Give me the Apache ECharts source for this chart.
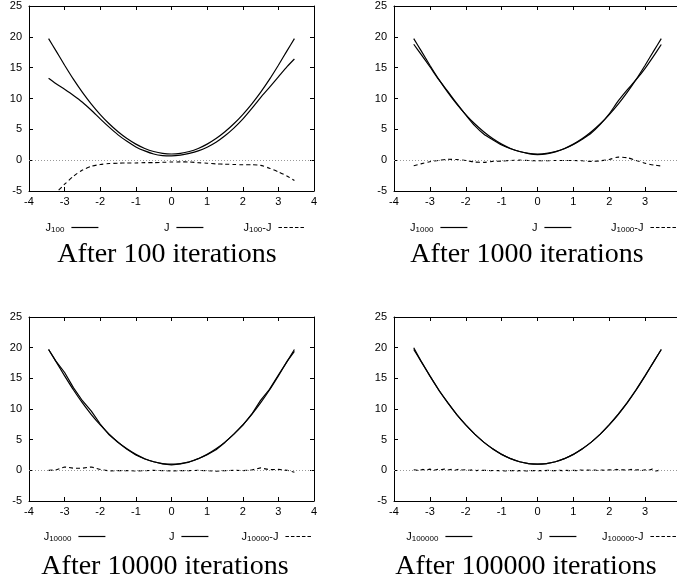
<!DOCTYPE html>
<html>
<head>
<meta charset="utf-8">
<script src="https://cdn.jsdelivr.net/npm/echarts@6/dist/echarts.min.js"></script>
<style>
  html, body { margin: 0; padding: 0; background: #fff; }
  #main { width: 677px; height: 582px; }
</style>
</head>
<body>
<div id="main"></div>
<script>
// x positions where the curves were read
let xs = [-3.45, -3.25, -3, -2.75, -2.5, -2.25, -2, -1.75, -1.5, -1.25, -1, -0.75, -0.5, -0.25, 0,
    0.25, 0.5, 0.75, 1, 1.25, 1.5, 1.75, 2, 2.25, 2.5, 2.75, 3, 3.25, 3.45];
// finer grid for the noisy difference after 100000 iterations
let xsFine = [-3.45, -3.4, -3.3, -3.2, -3.1, -3.0, -2.9, -2.8, -2.7, -2.6, -2.5, -2.4, -2.3, -2.2, -2.1,
    -2.0, -1.9, -1.8, -1.7, -1.6, -1.5, -1.4, -1.3, -1.2, -1.1, -1.0, -0.9, -0.8, -0.7, -0.6, -0.5,
    -0.4, -0.3, -0.2, -0.1, 0, 0.1, 0.2, 0.3, 0.4, 0.5, 0.6, 0.7, 0.8, 0.9, 1.0, 1.1, 1.2, 1.3, 1.4,
    1.5, 1.6, 1.7, 1.8, 1.9, 2.0, 2.1, 2.2, 2.3, 2.4, 2.5, 2.6, 2.7, 2.8, 2.9, 3.0, 3.1, 3.2, 3.3,
    3.4, 3.45];

let xTicks = [-4, -3, -2, -1, 0, 1, 2, 3, 4];
let yTicks = [-5, 0, 5, 10, 15, 20, 25];

// exact J
let jTrue = [19.7, 17.8, 15.4, 13.1, 11.0, 9.1, 7.4, 5.9, 4.6, 3.5, 2.6, 1.9, 1.4, 1.1, 1.0,
    1.1, 1.4, 1.9, 2.6, 3.5, 4.6, 5.9, 7.4, 9.1, 11.0, 13.1, 15.4, 17.8, 19.7];

// after 100 iterations
let j100 = [13.3, 12.45, 11.5, 10.5, 9.4, 8.1, 6.7, 5.35, 4.1, 3.05, 2.15, 1.5, 1.0, 0.75, 0.7,
    0.82, 1.1, 1.5, 2.1, 2.9, 3.95, 5.2, 6.65, 8.35, 10.15, 11.8, 13.5, 15.2, 16.4];
let d100 = [-6.4, -5.35, -3.9, -2.6, -1.6, -1.0, -0.7, -0.55, -0.5, -0.45, -0.45, -0.4, -0.4, -0.35, -0.3,
    -0.28, -0.3, -0.4, -0.5, -0.6, -0.65, -0.7, -0.75, -0.75, -0.85, -1.3, -1.9, -2.6, -3.3];

// after 1000 iterations
let j1000 = [18.8, 17.2, 15.15, 13.05, 11.15, 9.2, 7.35, 5.6, 4.25, 3.3, 2.45, 1.85, 1.4, 1.05, 0.9,
    1.0, 1.35, 1.85, 2.55, 3.4, 4.4, 5.8, 7.5, 9.6, 11.4, 13.05, 14.9, 17.0, 18.75];
let d1000 = [-0.9, -0.6, -0.25, -0.05, 0.15, 0.1, -0.05, -0.3, -0.35, -0.2, -0.15, -0.05, 0, -0.05, -0.1,
    -0.1, -0.05, -0.05, -0.05, -0.1, -0.2, -0.1, 0.1, 0.5, 0.4, -0.05, -0.5, -0.8, -0.95];

// after 10000 iterations
let j10000 = [19.7, 17.85, 15.95, 13.45, 11.35, 9.65, 7.55, 5.8, 4.55, 3.45, 2.5, 1.85, 1.4, 1.05, 0.9,
    1.05, 1.35, 1.9, 2.55, 3.35, 4.55, 5.9, 7.35, 9.15, 11.4, 13.2, 15.55, 17.8, 19.4];
let d10000 = [0, 0.05, 0.55, 0.35, 0.35, 0.55, 0.15, -0.1, -0.05, -0.05, -0.1, -0.05, 0, -0.05, -0.1,
    -0.05, -0.05, 0, -0.05, -0.15, -0.05, 0, -0.05, 0.05, 0.4, 0.1, 0.15, 0, -0.3];

// after 100000 iterations
let j100000 = [20.0, 17.85, 15.4, 13.05, 11.05, 9.1, 7.4, 5.9, 4.6, 3.5, 2.6, 1.9, 1.4, 1.1, 1.0,
    1.1, 1.4, 1.9, 2.6, 3.5, 4.6, 5.9, 7.45, 9.15, 11.05, 13.15, 15.45, 17.8, 19.7];
let d100000 = [0.1, 0.35, -0.05, 0.15, 0.05, 0.2, 0, 0.15, 0.1, 0.2, 0.05, 0.15, 0, 0.2, 0.05,
    0.1, 0, 0.1, -0.05, 0.05, 0, 0, -0.05, 0, -0.05, -0.05, -0.1, -0.05, -0.05, -0.1, -0.05,
    -0.05, -0.1, -0.05, -0.05, -0.05, -0.05, -0.05, 0, -0.05, -0.05, 0, -0.05, 0, -0.05, 0, -0.05, 0.05, 0, 0.05,
    0, 0.05, -0.05, 0.05, 0, 0.1, 0, 0.15, 0.05, 0.1, 0, 0.15, 0.05, 0.1, -0.05, 0.1, 0, 0.2, -0.1,
    0, -0.1];

let iterLabels = ['100', '1000', '10000', '100000'];
let titles = ['After 100 iterations', 'After 1000 iterations', 'After 10000 iterations', 'After 100000 iterations'];

// layout of the four panels (pixels)
let panels = [
    { left: 29, top: 6, width: 285, height: 185, approx: j100, diff: d100, diffX: xs, smooth: 0.25 },
    { left: 394, top: 6, width: 287, height: 185, approx: j1000, diff: d1000, diffX: xs, smooth: 0.25 },
    { left: 29, top: 317, width: 285, height: 184, approx: j10000, diff: d10000, diffX: xs, smooth: false },
    { left: 394, top: 317, width: 287, height: 184, approx: j100000, diff: d100000, diffX: xsFine, smooth: false }
];
let legendRight = [[578, 473, 371], [209, 105, -1], [571, 468, 364], [204, 100, -1]];
let legendTop = [222, 222, 531, 531];
let titleX = [167, 527, 165, 526];
let titleTop = [241, 241, 553, 553];

function zip(x, y) {
    return x.map(function(v, i) { return [v, y[i]]; });
}

let tickFont = { fontFamily: 'Liberation Sans', fontSize: 11, color: '#000' };

function makeXAxis(gi, pos) {
    return {
        type: 'value', gridIndex: gi, position: pos,
        min: xTicks[0], max: xTicks[xTicks.length - 1], interval: 1,
        axisLine: { onZero: false, lineStyle: { color: '#000', width: 1 } },
        axisTick: { inside: true, length: 4, lineStyle: { color: '#000' } },
        axisLabel: Object.assign({ show: pos === 'bottom', margin: 5 }, tickFont),
        splitLine: { show: false }
    };
}

function makeYAxis(gi, pos) {
    return {
        type: 'value', gridIndex: gi, position: pos,
        min: yTicks[0], max: yTicks[yTicks.length - 1], interval: 5,
        axisLine: { onZero: false, lineStyle: { color: '#000', width: 1 } },
        axisTick: { inside: true, length: 4, lineStyle: { color: '#000' } },
        axisLabel: Object.assign({ show: pos === 'left', margin: 7 }, tickFont),
        splitLine: { show: false }
    };
}

let richText = {
    m: { fontFamily: 'Liberation Sans', fontSize: 11, color: '#000', lineHeight: 13 },
    s: { fontFamily: 'Liberation Sans', fontSize: 8, color: '#000', lineHeight: 8, verticalAlign: 'bottom' }
};

let grids = [], xAxes = [], yAxes = [], series = [], legends = [], titleList = [];

panels.forEach(function(p, i) {
    let n = iterLabels[i];
    grids.push({ left: p.left, top: p.top, width: p.width, height: p.height, outerBoundsMode: 'none' });
    xAxes.push(makeXAxis(i, 'bottom'), makeXAxis(i, 'top'));
    yAxes.push(makeYAxis(i, 'left'), makeYAxis(i, 'right'));

    let nameA = 'J_' + n, nameJ = 'J#' + n, nameD = 'J_' + n + '-J';
    let common = { type: 'line', xAxisIndex: 2 * i, yAxisIndex: 2 * i, symbol: 'none', clip: true, animation: false };
    series.push(Object.assign({ name: nameA, data: zip(xs, p.approx), smooth: p.smooth,
        lineStyle: { color: '#000', width: 1.2 }, itemStyle: { color: '#000' } }, common));
    series.push(Object.assign({ name: nameJ, data: zip(xs, jTrue), smooth: 0.25,
        lineStyle: { color: '#000', width: 1.2 }, itemStyle: { color: '#000' } }, common));
    series.push(Object.assign({ name: nameD, data: zip(p.diffX, p.diff), smooth: p.smooth,
        lineStyle: { color: '#000', width: 1.1, type: [4, 3] }, itemStyle: { color: '#000' },
        markLine: {
            silent: true, symbol: ['none', 'none'], label: { show: false }, animation: false,
            lineStyle: { color: '#999', width: 1, type: [1, 2] },
            data: [{ yAxis: 0 }]
        } }, common));

    let texts = ['{m|J}{s|' + n + '}', '{m|J}', '{m|J}{s|' + n + '}{m|-J}'];
    [nameA, nameJ, nameD].forEach(function(nm, k) {
        legends.push({
            data: [nm], right: legendRight[i][k], top: legendTop[i],
            align: 'right', orient: 'horizontal', padding: 0, itemGap: 0,
            itemWidth: 27, itemHeight: 12, selectedMode: false,
            itemStyle: { color: 'rgba(0,0,0,0)', borderColor: 'rgba(0,0,0,0)', borderWidth: 0 },
            lineStyle: k === 2 ? { color: '#000', width: 1.1, type: [3.5, 2] } : { color: '#000', width: 1.2, type: 'solid' },
            formatter: function() { return texts[k]; },
            textStyle: { rich: richText, padding: [0, 2, 0, 0] }
        });
    });

    titleList.push({
        text: titles[i], left: titleX[i], top: titleTop[i], textAlign: 'center', padding: 0,
        textStyle: { fontFamily: 'Liberation Serif', fontSize: 28, fontWeight: 'normal', color: '#000', lineHeight: 28 }
    });
});

let chart = echarts.init(document.getElementById('main'), null, { renderer: 'canvas' });
chart.setOption({
    backgroundColor: '#fff',
    animation: false,
    title: titleList,
    legend: legends,
    grid: grids,
    xAxis: xAxes,
    yAxis: yAxes,
    series: series
});
</script>
</body>
</html>
